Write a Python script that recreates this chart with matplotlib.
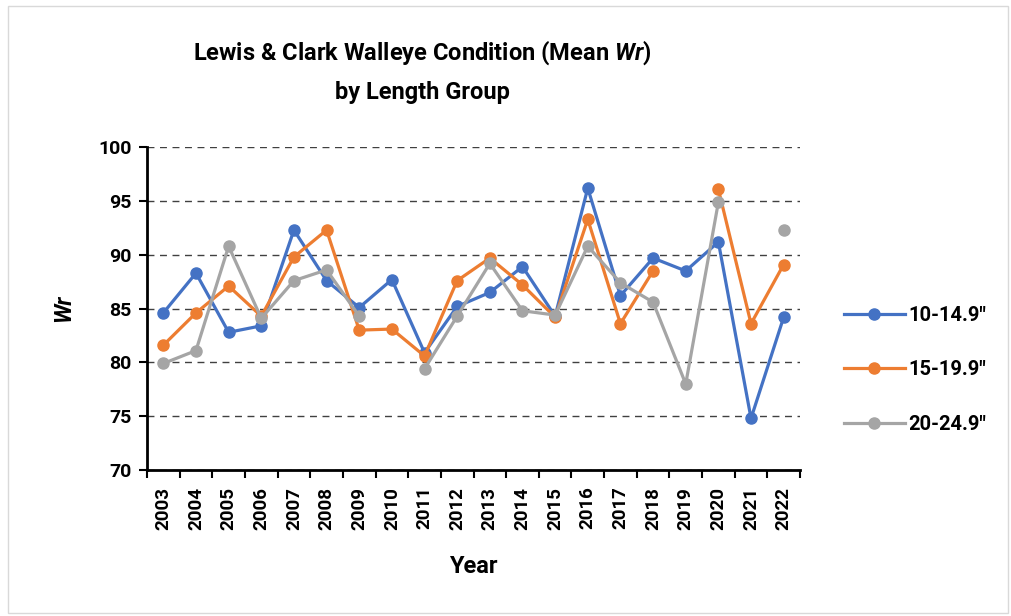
import numpy as np
import matplotlib
matplotlib.use("Agg")
import matplotlib.pyplot as plt
from matplotlib.patches import Rectangle

years = [str(y) for y in range(2003, 2023)]

# mean Wr by length group (nan = no sample that year)
wr_10_14 = [84.6, 88.3, 82.8, 83.4, 92.3, 87.6, 85.1, 87.7, 80.9, 85.2,
            86.5, 88.9, 84.3, 96.2, 86.2, 89.7, 88.5, 91.2, 74.8, 84.2]
wr_15_19 = [81.6, 84.6, 87.1, 84.3, 89.8, 92.3, 83.0, 83.1, 80.6, 87.6,
            89.7, 87.2, 84.2, 93.3, 83.6, 88.5, np.nan, 96.1, 83.6, 89.1]
wr_20_24 = [79.9, 81.1, 90.8, 84.1, 87.6, 88.6, 84.3, np.nan, 79.4, 84.3,
            89.2, 84.8, 84.4, 90.8, 87.4, 85.6, 78.0, 94.9, np.nan, 92.3]

labels = ['10-14.9"', '15-19.9"', '20-24.9"']
colors = ["#4472C4", "#ED7D31", "#A5A5A5"]

plt.rcParams["font.family"] = ["Roboto", "DejaVu Sans"]
plt.rcParams["mathtext.fontset"] = "custom"
plt.rcParams["mathtext.bfit"] = "Roboto:bold:italic"
plt.rcParams["mathtext.bf"] = "Roboto:bold"

fig = plt.figure(figsize=(10.11, 6.16), dpi=100)
fig.patches.append(Rectangle((0.008, 0.005), 0.989, 0.985, transform=fig.transFigure,
                             fill=False, edgecolor="#d9d9d9", linewidth=1))
ax = fig.add_axes([0.1454, 0.237, 0.6459, 0.524])

x = np.arange(len(years))
for vals, lab, col in zip([wr_10_14, wr_15_19, wr_20_24], labels, colors):
    ax.plot(x, vals, color=col, linewidth=2.3, marker="o", markersize=8,
            label=lab, zorder=3)

ax.set_xlim(-0.5, len(years) - 0.5)
ax.set_ylim(70, 100)
ax.set_yticks(range(70, 101, 5))
ax.set_xticks(x)
ax.set_xticklabels(years, rotation=90, fontsize=13.5, fontweight="bold")
ax.set_xticks(np.arange(-0.5, len(years)), minor=True)
ax.tick_params(axis="x", which="major", length=0, pad=12)
ax.tick_params(axis="x", which="minor", length=6, width=1.5, direction="out")
ax.tick_params(axis="y", length=6, width=1.5, direction="out", labelsize=14, pad=5)
for t in ax.get_yticklabels():
    t.set_fontweight("bold")

ax.grid(axis="y", linestyle=(0, (5, 4)), color="#404040", linewidth=1)
ax.set_axisbelow(True)
for side in ["top", "right"]:
    ax.spines[side].set_visible(False)
for side in ["left", "bottom"]:
    ax.spines[side].set_linewidth(2)

ax.set_xlabel("Year", fontsize=17, fontweight="bold", labelpad=18)
ax.set_ylabel("Wr", fontsize=16.5, fontweight="bold", fontstyle="italic", labelpad=17)

fig.text(0.4174, 0.914, "Lewis & Clark Walleye Condition (Mean $\\mathbfit{Wr}$)",
         ha="center", va="center", fontsize=17, fontweight="bold")
fig.text(0.4174, 0.850, "by Length Group", ha="center", va="center",
         fontsize=17, fontweight="bold")

leg = ax.legend(loc="center left", bbox_to_anchor=(1.04, 0.31), frameon=False,
                labelspacing=1.75, handlelength=3.0, handletextpad=0.2,
                prop={"size": 14.5, "weight": "bold"})

fig.savefig("out.png", dpi=100)
